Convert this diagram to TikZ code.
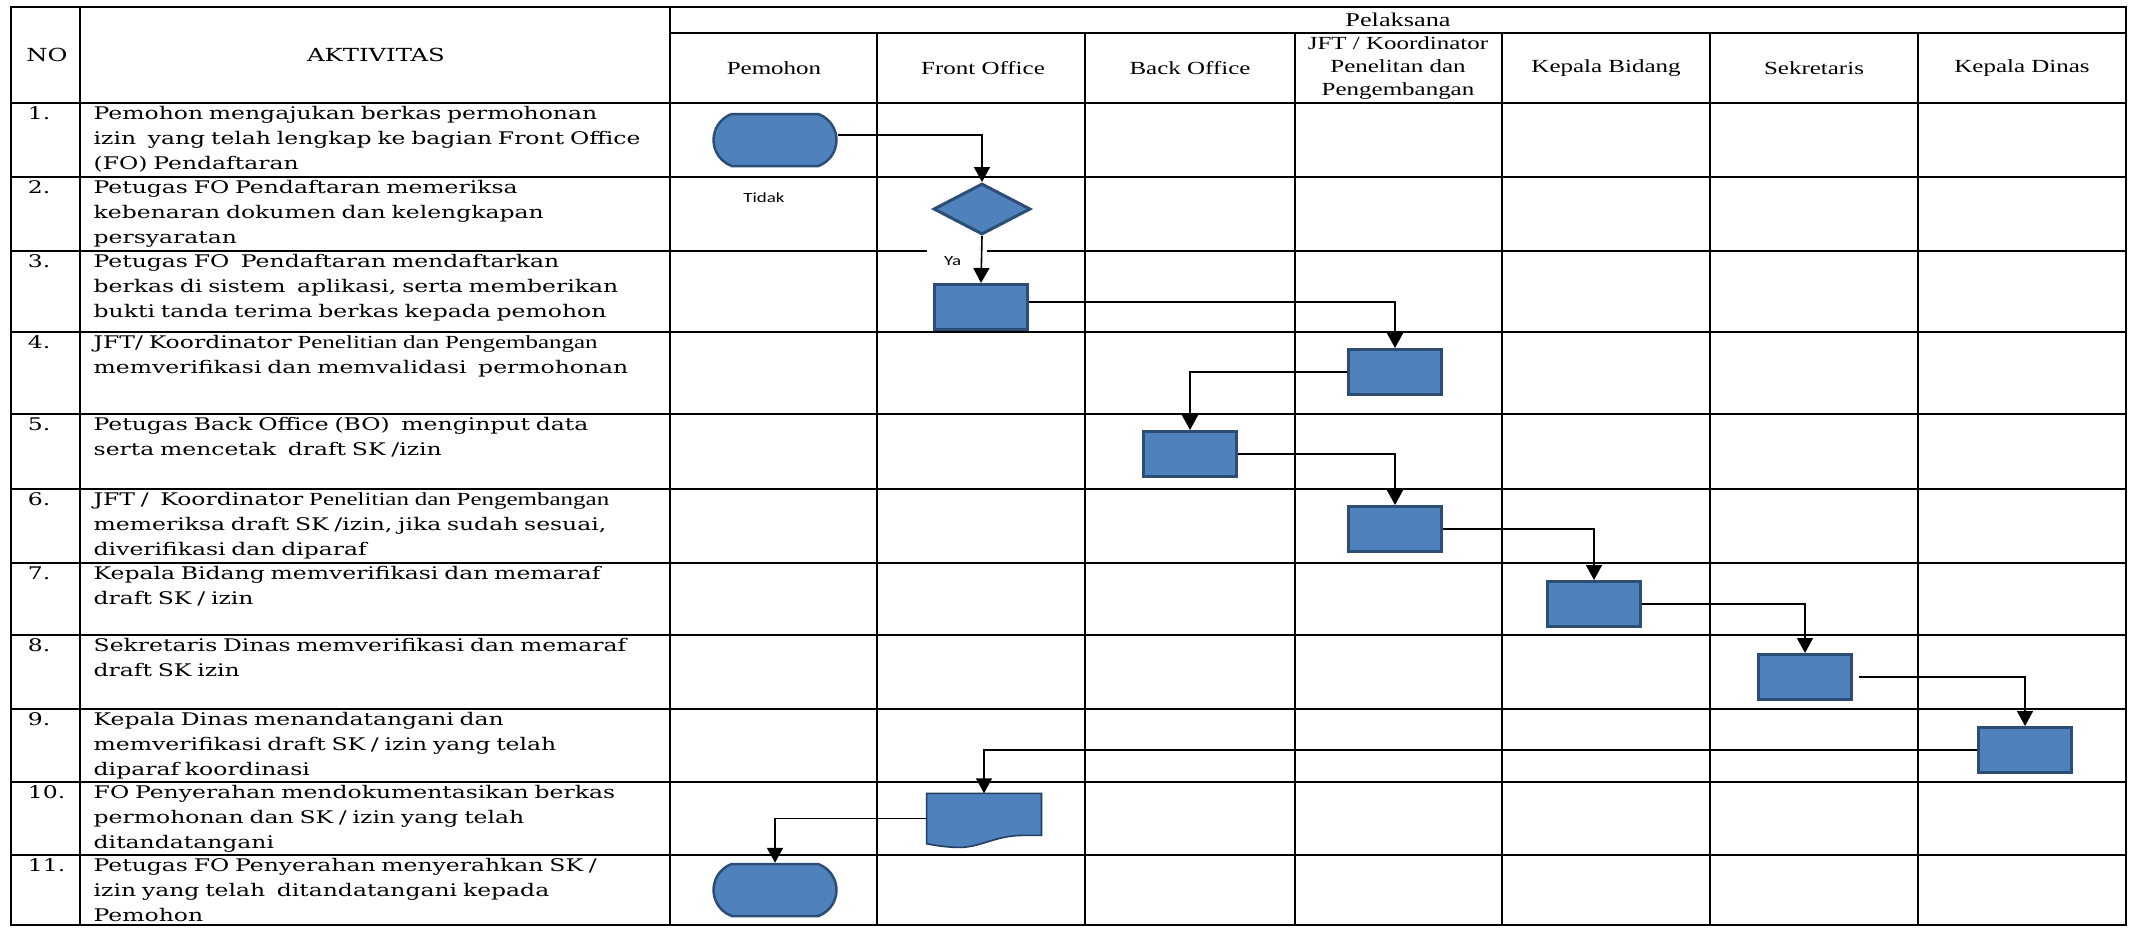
\documentclass[tikz,border=0pt]{standalone}
\usepackage{fontspec}
\usetikzlibrary{calc,arrows.meta,shapes.geometric,shapes.misc}
\newfontfamily\actfont{DejaVu Serif}[FakeStretch=1.35]
\newfontfamily\hdrfont{Liberation Serif}[FakeStretch=1.35]
\newfontfamily\lblfont{Carlito}[FakeStretch=1.35]
\definecolor{boxblue}{HTML}{4F81BD}
\definecolor{boxline}{HTML}{2C4D75}
\newcommand{\tms}[1]{{\hdrfont\fontsize{18.5}{25}\selectfont #1}}

\begin{document}
\begin{tikzpicture}[x=1pt, y=-1pt,
	grid/.style={line width=1.6pt, black},
	conn/.style={line width=1.6pt, -{Triangle[length=15pt,width=16pt]}},
	procbox/.style={draw=boxline, fill=boxblue, line width=3pt, inner sep=0pt, minimum width=93pt, minimum height=45pt},
	termbox/.style={rounded rectangle, rounded rectangle arc length=140, draw=boxline, fill=boxblue, line width=2.5pt, inner sep=0pt, minimum width=123pt, minimum height=52pt},
	decbox/.style={diamond, draw=boxline, fill=boxblue, line width=3pt, inner sep=0pt, minimum width=97pt, minimum height=51pt},
	acttext/.style={anchor=north west, inner sep=0pt, text width=600pt, align=left, font=\actfont\fontsize{17.4}{25}\selectfont},
	numtext/.style={anchor=north west, inner sep=0pt, font=\actfont\fontsize{17.4}{25}\selectfont},
	colhead/.style={inner sep=0pt, align=center, font=\hdrfont\fontsize{18.5}{22.7}\selectfont},
	lbl/.style={inner sep=0pt, font=\lblfont\fontsize{14}{16}\selectfont}]
		\useasboundingbox (0,0) rectangle (2135,927);
		\path
		(11,7) coordinate (TL)
		(2126,925) coordinate (BR)
		;
		\draw[grid]
		(TL) rectangle (BR)
		(670,33) -- (2126,33)
		(11,103) -- (2126,103)
		(11,177) -- (2126,177)
		(11,251) -- (2126,251)
		(11,332) -- (2126,332)
		(11,414) -- (2126,414)
		(11,489) -- (2126,489)
		(11,563) -- (2126,563)
		(11,635) -- (2126,635)
		(11,709) -- (2126,709)
		(11,782) -- (2126,782)
		(11,855) -- (2126,855)
		(80,7) -- (80,925)
		(670,7) -- (670,925)
		(877,33) -- (877,925)
		(1085,33) -- (1085,925)
		(1295,33) -- (1295,925)
		(1502,33) -- (1502,925)
		(1710,33) -- (1710,925)
		(1918,33) -- (1918,925)
		;
		
		\path
		(47,55) node[numtext, anchor=center, font=\actfont\fontsize{18}{22}\selectfont] (hno) {NO}
		(376,55) node[numtext, anchor=center, font=\actfont\fontsize{18}{22}\selectfont] (hakt) {AKTIVITAS}
		(1398,20) node[colhead, font=\hdrfont\fontsize{19.5}{22.7}\selectfont] (hpel) {Pelaksana}
		(774,68) node[colhead] (hpemohon) {Pemohon}
		(983,68) node[colhead] (hfo) {Front Office}
		(1190,68) node[colhead] (hbo) {Back Office}
		(1398,68) node[colhead] (hjft) {JFT / Koordinator\\Penelitan dan\\Pengembangan}
		(1606,68) node[colhead] (hkb) {Kepala Bidang}
		(1814,68) node[colhead] (hsek) {Sekretaris}
		(2022,68) node[colhead] (hkd) {Kepala Dinas}
		;
		
		\path
		(27.7,102) node[numtext] (n1) {\strut 1.}
		(27.7,176) node[numtext] (n2) {\strut 2.}
		(27.7,250) node[numtext] (n3) {\strut 3.}
		(27.7,331) node[numtext] (n4) {\strut 4.}
		(27.7,413) node[numtext] (n5) {\strut 5.}
		(27.7,488) node[numtext] (n6) {\strut 6.}
		(27.7,562) node[numtext] (n7) {\strut 7.}
		(27.7,634) node[numtext] (n8) {\strut 8.}
		(27.7,708) node[numtext] (n9) {\strut 9.}
		(27.7,781) node[numtext] (n10) {\strut 10.}
		(27.7,854) node[numtext] (n11) {\strut 11.}
		
		(93.5,102) node[acttext] (a1) {\strut Pemohon mengajukan berkas permohonan\\izin~ yang telah lengkap ke bagian Front Office\\(FO) Pendaftaran}
		(93.5,176) node[acttext] (a2) {\strut Petugas FO Pendaftaran memeriksa\\kebenaran dokumen dan kelengkapan\\persyaratan}
		(93.5,250) node[acttext] (a3) {\strut Petugas FO~ Pendaftaran mendaftarkan\\berkas di sistem~ aplikasi, serta memberikan\\bukti tanda terima berkas kepada pemohon}
		(93.5,331) node[acttext] (a4) {\strut JFT/ Koordinator \tms{Penelitian dan Pengembangan}\\memverifikasi dan memvalidasi~ permohonan}
		(93.5,413) node[acttext] (a5) {\strut Petugas Back Office (BO)~ menginput data\\serta mencetak~ draft SK /izin}
		(93.5,488) node[acttext] (a6) {\strut JFT /~ Koordinator \tms{Penelitian dan Pengembangan}\\memeriksa draft SK /izin, jika sudah sesuai,\\diverifikasi dan diparaf}
		(93.5,562) node[acttext] (a7) {\strut Kepala Bidang memverifikasi dan memaraf\\draft SK / izin}
		(93.5,634) node[acttext] (a8) {\strut Sekretaris Dinas memverifikasi dan memaraf\\draft SK izin}
		(93.5,708) node[acttext] (a9) {\strut Kepala Dinas menandatangani dan\\memverifikasi draft SK / izin yang telah\\diparaf koordinasi}
		(93.5,781) node[acttext] (a10) {\strut FO Penyerahan mendokumentasikan berkas\\permohonan dan SK / izin yang telah\\ditandatangani}
		(93.5,854) node[acttext] (a11) {\strut Petugas FO Penyerahan menyerahkan SK /\\izin yang telah~ ditandatangani kepada\\Pemohon}
		;
		
		\node[termbox] (t1) at (775,140) {};
		\node[decbox] (dec) at (982,209) {};
		\node[procbox] (fo) at (981,307) {};
		\node[procbox] (j1) at (1395,372) {};
		\node[procbox] (bo) at (1190,454) {};
		\node[procbox] (j2) at (1395,529) {};
		\node[procbox] (kb) at (1594,604) {};
		\node[procbox] (sk) at (1805,677) {};
		\node[procbox] (kd) at (2025,750) {};
		\node[minimum width=114.5pt, minimum height=50pt, inner sep=0pt] (doc) at (984,818.5) {};
		\node[termbox] (t2) at (775,890) {};
		
		\filldraw[fill=boxblue, draw=boxline!80!black, line width=1.6pt]
		(doc.north west) -- (doc.north east) -- ($(doc.south east)+(0,-8.3)$)
		-- ($(doc.south west)+(96,-8.3)$)
		.. controls ($(doc.south west)+(68,-8.3)$) and ($(doc.south west)+(53,4.7)$) .. ($(doc.south west)+(30,3.7)$)
		.. controls ($(doc.south west)+(18,3.2)$) and ($(doc.south west)+(8,1.7)$) .. (doc.south west)
		-- cycle;
		
		\node[lbl] (tidak) at (764,198) {Tidak};
		\node[lbl, anchor=west, fill=white, text width=26pt, align=left, inner xsep=17pt, minimum height=26pt] (ya) at (927,261) {Ya};
		
		\draw[conn] ([yshift=5pt]t1.east) -| (dec.north);
		\draw[conn] (dec.south) -- (fo.north);
		\draw[conn] ([yshift=5pt]fo.east) -| (j1.north);
		\draw[conn] (j1.west) -| (bo.north);
		\draw[conn] (bo.east) -| (j2.north);
		\draw[conn] (j2.east) -| (kb.north);
		\draw[conn] (kb.east) -| (sk.north);
		\draw[conn] ([xshift=6pt]sk.east) -| (kd.north);
		\draw[conn] (kd.west) -| (doc.north);
		\draw[conn] (doc.west) -| (t2.north);
	\end{tikzpicture}
\end{document}
